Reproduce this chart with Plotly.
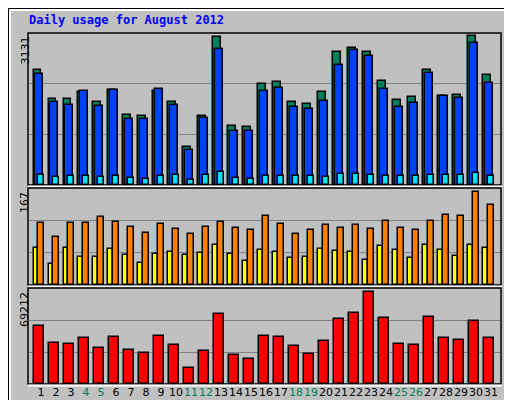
import plotly.graph_objects as go

days = list(range(1, 32))
weekends = [4, 5, 11, 12, 18, 19, 25, 26]
hits = [2432, 1818, 1818, 1966, 1755, 2009, 1480, 1459, 1988, 1755, 804, 1459, 3131, 1248, 1227, 2137,
        2179, 1755, 1713, 1967, 2813, 2898, 2813, 2200, 1798, 1861, 2432, 1882, 1903, 3152, 2327]
files = [2347, 1755, 1692, 1988, 1671, 2009, 1396, 1396, 2031, 1692, 740, 1417, 2877, 1142, 1142, 1988,
         2052, 1650, 1608, 1777, 2539, 2856, 2729, 2031, 1650, 1734, 2369, 1882, 1840, 3004, 2158]
pages = [211, 169, 190, 190, 169, 190, 148, 127, 190, 211, 106, 211, 275, 148, 127, 190,
         190, 190, 190, 169, 233, 233, 211, 190, 190, 190, 211, 211, 211, 254, 190]
visits = [111, 86, 111, 111, 122, 113, 104, 93, 109, 100, 91, 104, 113, 102, 99, 124,
          109, 91, 99, 108, 102, 108, 101, 115, 102, 99, 115, 126, 124, 167, 144]
sites = [66, 38, 66, 50, 50, 65, 54, 39, 56, 59, 54, 57, 72, 56, 43, 63,
         59, 48, 50, 65, 61, 59, 45, 70, 63, 48, 72, 63, 52, 72, 66]
kbytes = [43336, 30547, 29795, 34309, 26786, 35061, 25281, 23024, 35813, 29043, 12036, 24529, 52364, 21519, 18510, 35813,
          35061, 28291, 22272, 32052, 48603, 53116, 69212, 49355, 30000, 29043, 50107, 34309, 32804, 47098, 34309]
day_labels = [f"<span style='color:#00805C'>{d}</span>" if d in weekends else str(d) for d in days]

W, H, L, T, B = 512, 400, 21, 25, 24
PH = H - T - B
def py(p): return (376 - p) / PH
def px(p): return (p - L) / (W - L - 19)

fig = go.Figure()
def bar(y, color, offset, width, axis):
    fig.add_trace(go.Bar(x=days, y=y, marker=dict(color=color, line=dict(color='black', width=1.5)),
                         offset=offset, width=width, xaxis='x', yaxis=axis, showlegend=False, hoverinfo='skip'))

bar(hits, '#00805C', -0.5, 0.47, 'y')
bar(files, '#0040FF', -0.38, 0.5, 'y')
bar(pages, '#00E0FF', -0.23, 0.46, 'y')
bar(sites, '#FFFF00', -0.5, 0.28, 'y2')
bar(visits, '#FF8000', -0.22, 0.45, 'y2')
bar(kbytes, '#FF0000', -0.46, 0.66, 'y3')

R1 = 3131 * 152 / 148
R2 = 167 * 97 / 93
R3 = 69212 * 96 / 92
yax = dict(showticklabels=False, showgrid=True, gridcolor='#808080', gridwidth=1.2, zeroline=False,
           fixedrange=True, automargin=False)
fig.update_layout(
    width=W, height=H, margin=dict(l=L, r=19, t=T, b=B, autoexpand=False),
    paper_bgcolor='#C0C0C0', plot_bgcolor='#C0C0C0', barmode='overlay', bargap=0,
    xaxis=dict(range=[0.2, 31.67], tickvals=days, ticktext=day_labels, showgrid=False, zeroline=False,
               tickangle=0, automargin=False,
               tickfont=dict(family='DejaVu Sans', size=11, color='black'), ticks='', anchor='y3'),
    yaxis=dict(domain=[py(177), 1], range=[0, R1], dtick=R1 / 3, **yax),
    yaxis2=dict(domain=[py(277), py(180)], range=[0, R2], dtick=R2 / 3, **yax),
    yaxis3=dict(domain=[0, py(280)], range=[0, R3], dtick=R3 / 3, **yax),
)

shapes = []
shapes.append(dict(type='rect', xref='paper', yref='paper', x0=px(0.5), x1=px(511.5), y0=py(399.5), y1=py(0.5),
                   line=dict(color='black', width=1)))
shapes.append(dict(type='rect', xref='paper', yref='paper', x0=px(2), x1=px(509), y0=py(396), y1=py(2),
                   line=dict(color='white', width=2)))
shapes.append(dict(type='line', xref='paper', yref='paper', x0=px(2), x1=px(509), y0=py(396), y1=py(396),
                   line=dict(color='#808080', width=3)))
shapes.append(dict(type='line', xref='paper', yref='paper', x0=px(509), x1=px(509), y0=py(396), y1=py(2),
                   line=dict(color='#808080', width=3)))
for top, bot in [(25, 177), (180, 277), (280, 376)]:
    shapes.append(dict(type='rect', xref='paper', yref='paper', x0=px(20), x1=px(493), y0=py(bot), y1=py(top),
                       line=dict(color='black', width=1.5)))
    shapes.append(dict(type='line', xref='paper', yref='paper', x0=px(20), x1=px(494), y0=py(bot + 1.5), y1=py(bot + 1.5),
                       line=dict(color='white', width=2)))
fig.update_layout(shapes=shapes)

ann = [dict(text='<b>Daily usage for August 2012</b>', x=px(19), y=py(12), xref='paper', yref='paper',
            xanchor='left', yanchor='middle', showarrow=False,
            font=dict(family='DejaVu Sans Mono', size=12, color='#0000FF'))]
for lab, top in [('3131', 27), ('167', 182), ('69212', 282)]:
    ann.append(dict(text=lab, x=px(8), y=py(top), xref='paper', yref='paper', textangle=-90,
                    xanchor='left', yanchor='top', showarrow=False,
                    font=dict(family='DejaVu Sans', size=11, color='black')))
right = [
    ("<span style='color:#00E0FF'>Pages</span> / <span style='color:#0040FF'>Files</span> / <span style='color:#00805C'>Hits</span>", 27),
    ("<span style='color:#FF8000'>Sites</span> / <span style='color:#FFFF00'>Visits</span>", 182),
    ("<span style='color:#FF0000'>KBytes</span>", 282),
]
for txt, top in right:
    ann.append(dict(text=txt, x=px(494), y=py(top), xref='paper', yref='paper', textangle=-90,
                    xanchor='left', yanchor='top', showarrow=False,
                    font=dict(family='DejaVu Sans Mono', size=10, color='black')))
fig.update_layout(annotations=ann)

fig.write_html("out.html")
